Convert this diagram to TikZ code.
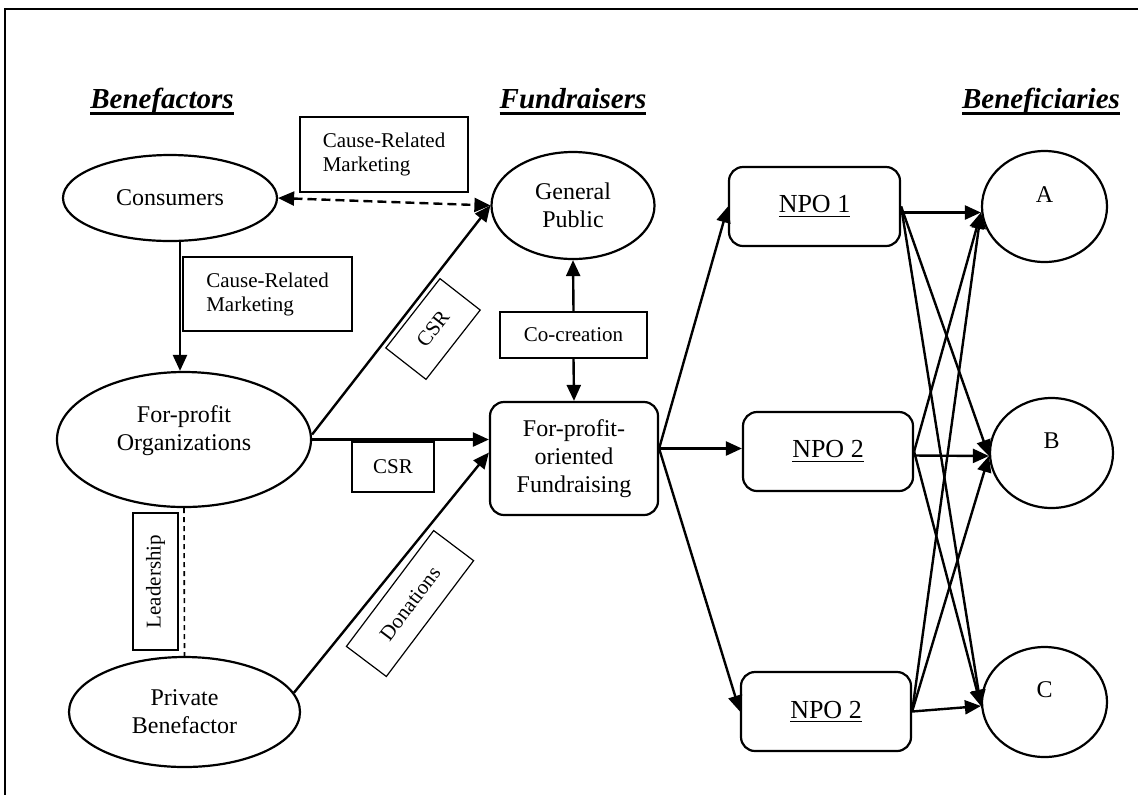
\documentclass[tikz,border=0pt]{standalone}
\usepackage{fontspec}
\setmainfont{Liberation Serif}
\usetikzlibrary{arrows.meta,shapes.geometric}
% thick rule under the column headings
\newcommand\headul[1]{\setbox0=\hbox{#1}\rlap{\rule[-3.4pt]{\wd0}{1.2pt}}\box0}
% lift a (multi-line) text without changing the size of its box
\newcommand\liftup[2]{\raisebox{#1}[\height][\depth]{\begin{tabular}{@{}c@{}}#2\end{tabular}}}
\begin{document}
\begin{tikzpicture}[x=0.5pt,y=-0.5pt,
  oval/.style={draw,line width=1.1pt,ellipse,inner sep=0pt,align=center,
    font=\fontsize{12}{14}\selectfont},
  rbox/.style={draw,line width=1.1pt,rounded corners=7pt,inner sep=0pt,align=center},
  tag/.style={draw,line width=0.6pt,inner sep=0pt,align=left,
    font=\fontsize{10.5}{12}\selectfont},
  head/.style={anchor=base,font=\fontsize{14.5}{17}\selectfont\bfseries\itshape},
  tip/.tip={Triangle[length=8pt,width=7pt]},
  arr/.style={line width=1.2pt,-tip},
  darr/.style={line width=1.2pt,dash pattern=on 4.5pt off 2.5pt,tip-tip},
  dline/.style={line width=0.8pt,dash pattern=on 2.5pt off 2pt}
]
\useasboundingbox (0,0) rectangle (1138,794);
% outer frame
\draw[line width=1.1pt] (5,9) rectangle (1160,820);

% column headings
\node[head] (hbf) at (162,108) {\headul{Benefactors}};
\node[head] (hfr) at (573,108) {\headul{Fundraisers}};
\node[head] (hbn) at (1041,108) {\headul{Beneficiaries}};

% benefactors
\node[oval,minimum width=107pt,minimum height=43pt] (cons) at (170,198) {Consumers};
\node[oval,minimum width=127pt,minimum height=67.5pt] (fp) at (184,439.5)
  {\liftup{4.5pt}{For-profit\\Organizations}};
\node[oval,minimum width=115.5pt,minimum height=55pt] (pb) at (184.5,712)
  {Private\\Benefactor};

% fundraisers
\node[oval,minimum width=81.5pt,minimum height=53.5pt] (gp) at (573,205.5)
  {General\\Public};
\node[rbox,minimum width=84pt,minimum height=56.5pt,
  font=\fontsize{12}{14}\selectfont] (fund) at (574,458.5)
  {For-profit-\\oriented\\Fundraising};

% non-profit organisations
\node[rbox,minimum width=85.5pt,minimum height=39.5pt,
  font=\fontsize{13}{15}\selectfont] (npo1) at (814.5,206.5) {\underline{NPO 1}};
\node[rbox,minimum width=85pt,minimum height=39.5pt,
  font=\fontsize{13}{15}\selectfont] (npo2) at (828,451.5) {\underline{NPO 2}};
\node[rbox,minimum width=85pt,minimum height=39.5pt,
  font=\fontsize{13}{15}\selectfont] (npo3) at (826,711.5) {\underline{NPO 2}};

% beneficiaries
\node[oval,minimum width=62.5pt,minimum height=55.5pt] (bA) at (1044.5,206.5) {\liftup{5pt}{A}};
\node[oval,minimum width=61.5pt,minimum height=55pt] (bB) at (1051.5,453) {\liftup{5pt}{B}};
\node[oval,minimum width=62.5pt,minimum height=55pt] (bC) at (1044.5,702) {\liftup{5pt}{C}};

% relation labels
\node[tag,minimum width=84pt,minimum height=37.5pt] (crm1) at (384,154.5)
  {Cause-Related\\Marketing};
\node[tag,minimum width=84.5pt,minimum height=37pt] (crm2) at (267.5,294)
  {Cause-Related\\Marketing};
\node[tag,align=center,minimum width=44pt,minimum height=25.5pt,rotate=52] (csr1)
  at (433,329) {CSR};
\node[tag,align=center,minimum width=41pt,minimum height=25pt] (csr2)
  at (393,467) {CSR};
\node[tag,align=center,minimum width=73.5pt,minimum height=23pt] (cocr)
  at (573.5,335) {Co-creation};
\node[tag,align=center,minimum width=68.5pt,minimum height=22.5pt,rotate=90] (lead)
  at (155.5,581.5) {Leadership};
\node[tag,align=center,minimum width=72.5pt,minimum height=25pt,rotate=53] (don)
  at (410,603.5) {Donations};

% connectors on the benefactor side
\draw[darr] (cons.east) -- (gp.west);
\draw[arr] ([xshift=-2pt]fp.north |- cons.south) -- ([xshift=-2pt]fp.north);
\draw[arr] ([yshift=2.5pt]fp.east) -- (gp.west);
\draw[arr] (fp.east) -- (fp.east -| fund.west);
\draw[arr] (pb.10) -- ([yshift=3pt]fund.west);
\draw[dline] (fp.south) -- (pb.north);
\draw[arr] (cocr.north) -- (gp.south);
\draw[arr] (cocr.south) -- (fund.north);

% fundraising towards the organisations
\coordinate (fout) at ([yshift=5pt]fund.east);
\draw[arr] (fout) -- (npo1.west);
\draw[arr] (fout) -- (fout -| npo2.west);
\draw[arr] (fout) -- (npo3.west);

% organisations towards beneficiaries
\coordinate (inA) at ([yshift=-3pt]bA.west);
\coordinate (inB) at ([yshift=-1.5pt]bB.west);
\coordinate (inC) at ([yshift=-2pt]bC.west);
\draw[arr] ([yshift=-3pt]npo1.east) -- (inA);
\draw[arr] (npo1.east) -- (inB);
\draw[arr] (npo1.east) -- (inC);
\draw[arr] (npo2.east) -- (inA);
\draw[arr] ([yshift=-2pt]npo2.east) -- (inB);
\draw[arr] (npo2.east) -- (inC);
\draw[arr] (npo3.east) -- (inA);
\draw[arr] (npo3.east) -- (inB);
\draw[arr] (npo3.east) -- (inC);
\end{tikzpicture}
\end{document}
